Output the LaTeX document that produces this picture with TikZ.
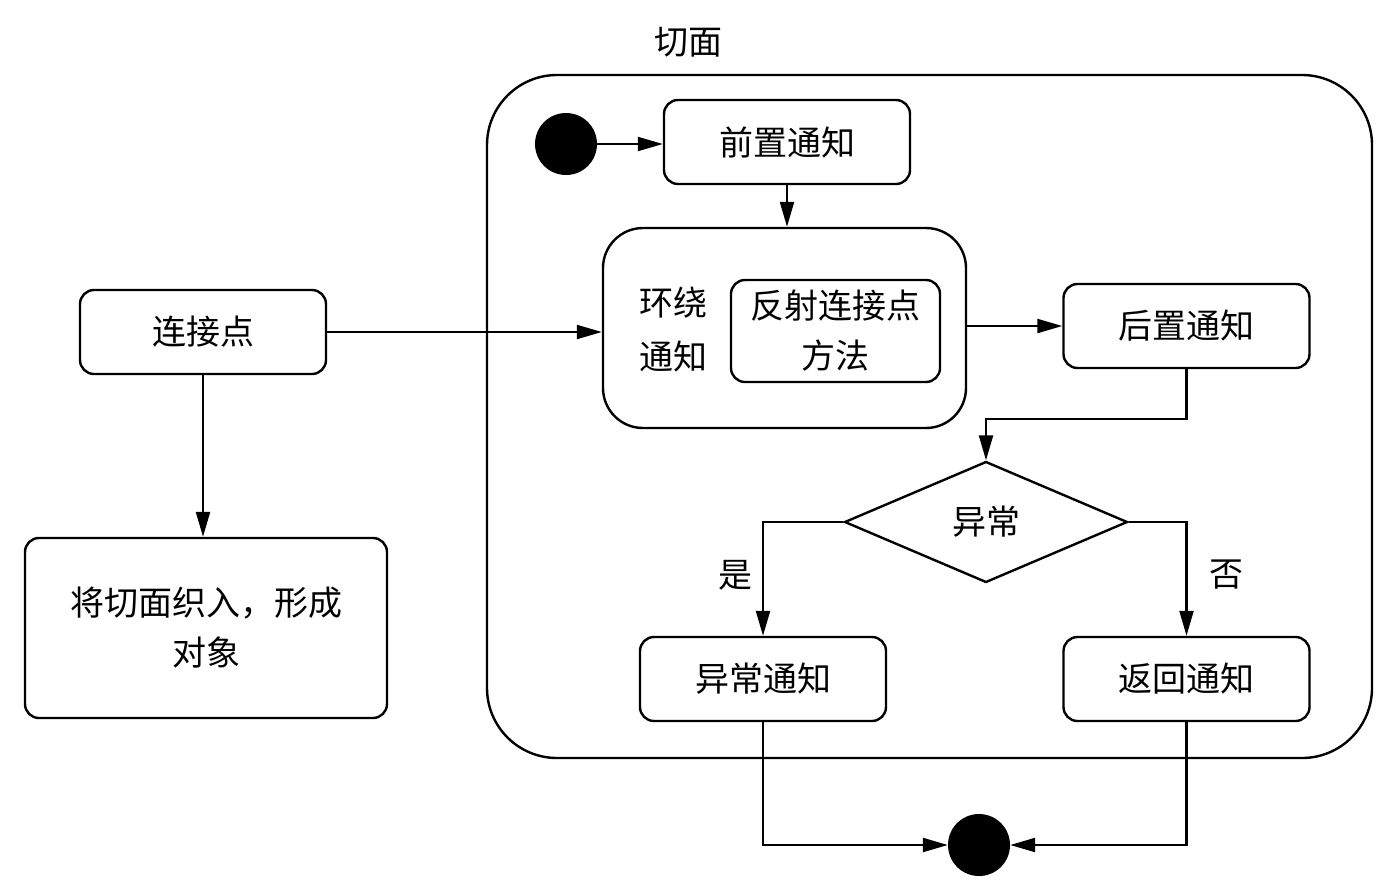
\documentclass[tikz,border=0pt]{standalone}
\usepackage{fontspec}
\setmainfont{Noto Sans CJK SC}
\usetikzlibrary{arrows.meta,shapes.geometric}
\begin{document}
\begin{tikzpicture}[x=1pt,y=-1pt,
  txt/.style={font=\fontsize{34}{50}\selectfont,align=center,inner sep=0pt},
  box/.style={draw,line width=2.4pt,rounded corners=14pt,minimum width=246pt,minimum height=84pt,txt},
  dot/.style={circle,fill=black,minimum size=62pt,inner sep=0pt},
  arr/.style={-{Triangle[length=25pt,width=14pt]},line width=2.2pt},
  line/.style={line width=2pt}]
\useasboundingbox (0,0) rectangle (1392,895);
% container
\node[draw,line width=2.4pt,rounded corners=70pt,minimum width=885pt,minimum height=683pt,inner sep=0pt] (aspect) at (929.5,416.5) {};
\node[txt] (aspectlbl) at (688,42) {切面};
% nodes
\node[dot] (start) at (566,144) {};
\node[box] (pre) at (787,142) {前置通知};
\node[draw,line width=2.4pt,rounded corners=40pt,minimum width=363pt,minimum height=200pt,inner sep=0pt] (around) at (784.5,328) {};
\node[txt,font=\fontsize{34}{54}\selectfont] (aroundlbl) at (673,330) {环绕\\通知};
\node[draw,line width=2.4pt,rounded corners=14pt,minimum width=209pt,minimum height=102pt,txt] (reflect) at (835.5,331) {反射连接点\\方法};
\node[box] (post) at (1186.5,326) {后置通知};
\node[box] (jp) at (203,332) {连接点};
\node[box,minimum width=362pt,minimum height=180pt] (weave) at (206,628) {将切面织入，形成\\对象};
\node[draw,diamond,line width=2.4pt,aspect=2.34,minimum width=283pt,minimum height=121pt,inner sep=0pt,txt] (dia) at (986,522) {异常};
\node[box] (exc) at (763,679) {异常通知};
\node[box] (ret) at (1186.5,679) {返回通知};
\node[dot] (end) at (979,845) {};
% connectors
\draw[arr] (start) -- (start -| pre.west);
\draw[arr] (pre.south) -- (pre.south |- around.north);
\draw[arr] (jp.east) -- (jp.east -| around.west);
\draw[arr] (post.west -| around.east) -- (post.west);
\draw[arr] (jp.south) -- (jp.south |- weave.north);
\draw[arr] (post.south) -- ++(0,50) -| (dia.north);
\draw[arr] (dia.west) -| (exc.north);
\draw[arr] (dia.east) -| (ret.north);
\node[txt] (yes) at (735,575) {是};
\node[txt] (no) at (1226,575) {否};
\draw[arr] (exc.south) |- (end.west);
\draw[arr] (ret.south) |- (end.east);
\end{tikzpicture}
\end{document}
